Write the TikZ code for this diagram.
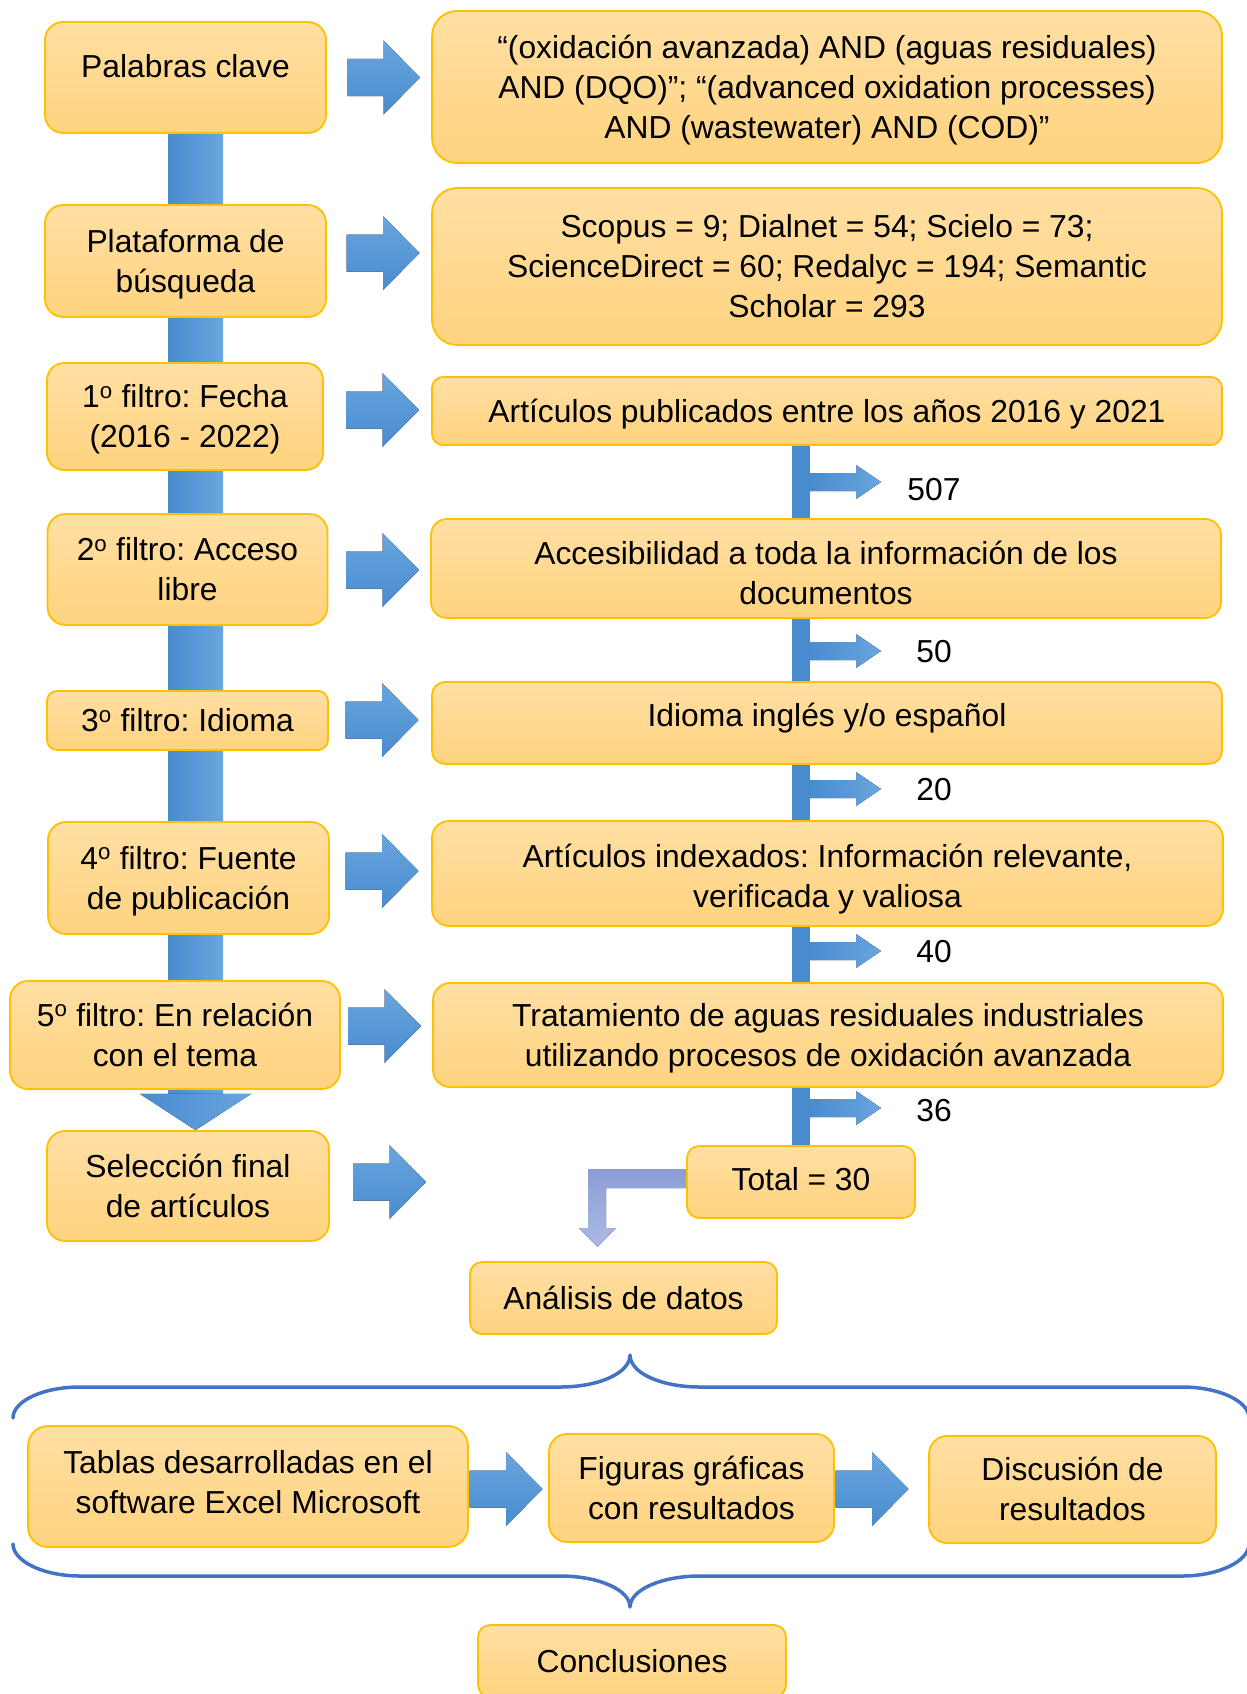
\documentclass[tikz,border=0pt]{standalone}
\usepackage{fontspec}
\setmainfont{Liberation Sans}
\usetikzlibrary{calc,backgrounds}
\definecolor{boxtop}{RGB}{255,223,163}
\definecolor{boxbot}{RGB}{255,211,127}
\definecolor{boxline}{RGB}{255,192,0}
\definecolor{blueD}{RGB}{72,140,207}
\definecolor{blueL}{RGB}{106,165,222}
\definecolor{elbA}{RGB}{138,158,214}
\definecolor{elbB}{RGB}{172,186,227}
\definecolor{braceC}{RGB}{68,114,196}
\newcommand\st{\vrule height 31pt depth 9pt width 0pt}
\newcommand\stTop{\vrule height 41pt depth 9pt width 0pt}
\newcommand\stMid{\vrule height 37pt depth 9pt width 0pt}
\newcommand\stBot{\vrule height 31pt depth 17pt width 0pt}
\newcommand\ordo{\textsuperscript{o}}
\frenchspacing
\begin{document}
\begin{tikzpicture}[x=1pt,y=-1pt,
  ybox/.style={draw=boxline, line width=1.8pt, top color=boxtop, bottom color=boxbot,
    rounded corners=#1, inner sep=0pt, font=\fontsize{31.8}{40}\selectfont},
  ml/.style={align=center},
  lbl/.style={inner sep=0pt, font=\fontsize{31.8}{40}\selectfont},
  bracestyle/.style={draw=braceC, line width=3.5pt, line join=round, line cap=round},
  rarr/.pic={\fill[top color=blueL,bottom color=blueD] (-36.5,-18.5) -- (0,-18.5) -- (0,-37) -- (36.5,0) -- (0,37) -- (0,18.5) -- (-36.5,18.5) -- cycle;},
  branch/.pic={\fill[left color=blueD,right color=blueL] (9,-9) -- (55,-9) -- (55,-17) -- (80,0) -- (55,17) -- (55,9) -- (9,9) -- cycle;}
]
\useasboundingbox (0,0) rectangle (1247,1694);

% left column
\node[ybox=18pt, minimum width=281pt, minimum height=111pt, text depth=31pt] (P1) at (185.5,77.5) {\st Palabras clave};
\node[ybox=18pt, ml, minimum width=281pt, minimum height=112pt] (P2) at (185.5,261) {\st Plataforma de\\búsqueda\st};
\node[ybox=17pt, ml, minimum width=276pt, minimum height=107pt] (P3) at (185,416.5) {\st 1\ordo{} filtro: Fecha\\(2016 - 2022)\st};
\node[ybox=18pt, ml, minimum width=280pt, minimum height=111pt] (P4) at (187.5,569.5) {\st 2\ordo{} filtro: Acceso\\libre\st};
\node[ybox=10pt, minimum width=281pt, minimum height=59pt] (P5) at (187.5,720.5) {\st 3\ordo{} filtro: Idioma};
\node[ybox=18pt, ml, minimum width=281pt, minimum height=112pt] (P6) at (188.5,878) {\st 4\ordo{} filtro: Fuente\\de publicación\st};
\node[ybox=18pt, ml, minimum width=330pt, minimum height=108pt] (P7) at (175,1035) {\st 5\ordo{} filtro: En relación\\con el tema\st};
\node[ybox=18pt, ml, minimum width=282pt, minimum height=110pt] (P8) at (188,1186) {\st Selección final\\de artículos\st};

% right column
\node[ybox=25pt, ml, minimum width=790pt, minimum height=152pt] (R1) at (827,87) {\st “(oxidación avanzada) AND (aguas residuales)\\AND (DQO)”; “(advanced oxidation processes)\\AND (wastewater) AND (COD)”\st};
\node[ybox=25pt, ml, minimum width=790pt, minimum height=157pt] (R2) at (827,266.5) {\st Scopus = 9; Dialnet = 54; Scielo = 73;\\ScienceDirect = 60; Redalyc = 194; Semantic\\Scholar = 293\st};
\node[ybox=11pt, minimum width=790pt, minimum height=68pt] (R3) at (827,411) {\st Artículos publicados entre los años 2016 y 2021};
\node[ybox=16pt, ml, minimum width=790pt, minimum height=99pt] (R4) at (826,568.5) {\stTop Accesibilidad a toda la información de los\\documentos\st};
\node[ybox=13pt, minimum width=790pt, minimum height=82pt, text depth=24pt] (R5) at (827,723) {\st Idioma inglés y/o español};
\node[ybox=17pt, ml, minimum width=791pt, minimum height=105pt] (R6) at (827.5,873.5) {\stMid Artículos indexados: Información relevante,\\verificada y valiosa\st};
\node[ybox=17pt, ml, minimum width=790pt, minimum height=104pt] (R7) at (828,1035) {\st Tratamiento de aguas residuales industriales\\utilizando procesos de oxidación avanzada\st};
\node[ybox=12pt, minimum width=228pt, minimum height=72pt, text depth=15pt] (T) at (801,1182) {\st Total = 30};
\node[ybox=12pt, minimum width=307pt, minimum height=72pt] (A) at (623.5,1298) {\st Análisis de datos};

% bottom row
\node[ybox=20pt, ml, minimum width=440pt, minimum height=121pt] (B1) at (248,1486.5) {\st Tablas desarrolladas en el\\software Excel Microsoft\stBot};
\node[ybox=18pt, ml, minimum width=285pt, minimum height=108pt] (B2) at (691.5,1488) {\st Figuras gráficas\\con resultados\st};
\node[ybox=18pt, ml, minimum width=287pt, minimum height=107pt] (B3) at (1072.5,1489.5) {\st Discusión de\\resultados\st};
\node[ybox=12pt, minimum width=308pt, minimum height=72pt] (C) at (632,1661) {\st Conclusiones};

% count labels
\node[lbl] (n1) at (934,489) {\st 507};
\node[lbl] (n2) at (934,651) {\st 50};
\node[lbl] (n3) at (934,789) {\st 20};
\node[lbl] (n4) at (934,951) {\st 40};
\node[lbl] (n5) at (934,1110) {\st 36};

\coordinate (lb) at (195.5,0);
\coordinate (rb) at (801,0);

\begin{scope}[on background layer]
  % main vertical arrow
  \fill[left color=blueD,right color=blueL] ($(P1.south -| lb)+(-27.5,0)$) rectangle ($(P7.south -| lb)+(27.5,4)$);
  \fill[left color=blueD,right color=blueL] ($(P7.south -| lb)+(-55.5,4)$) -- ($(P7.south -| lb)+(55.5,4)$) -- (P8.north -| lb) -- cycle;
  % right trunk
  \foreach \a/\b in {R3/R4,R4/R5,R5/R6,R6/R7,R7/T}
    \fill[blueD] ($(\a.south -| rb)+(-9,0)$) rectangle ($(\b.north -| rb)+(9,0)$);
  % elbow arrow from Total to Analisis
  \fill[top color=elbA,bottom color=elbB] ($(T.west)+(0,-13)$) -- (588,1169) -- (588,1228) -- (579,1228) -- (597.5,1247) -- (616,1228) -- (606,1228) -- (606,1188) -- ($(T.west)+(0,6)$) -- cycle;
\end{scope}

% branch arrows
\foreach \yy in {482,651,789,951,1108}
  \pic at (801,\yy) {branch};

% block arrows to the right
\foreach \xx/\yy in {383.5/77.5,383/253,382.5/410,382.5/570,382/720,382/871,384.5/1026,389.5/1182,506/1489,872/1489}
  \pic at (\xx,\yy) {rarr};

% braces
\draw[bracestyle] (13,1418) .. controls (13,1401) and (43,1387) .. (80,1387) -- (560,1387)
  .. controls (599,1387) and (630,1373) .. (630,1355)
  .. controls (630,1373) and (661,1387) .. (700,1387) -- (1182,1387)
  .. controls (1219,1387) and (1249,1401) .. (1249,1418);
\draw[bracestyle] (13,1544) .. controls (13,1561) and (43,1576) .. (80,1576) -- (560,1576)
  .. controls (599,1576) and (630,1590) .. (630,1607)
  .. controls (630,1590) and (661,1576) .. (700,1576) -- (1182,1576)
  .. controls (1219,1576) and (1249,1561) .. (1249,1544);
\end{tikzpicture}
\end{document}
